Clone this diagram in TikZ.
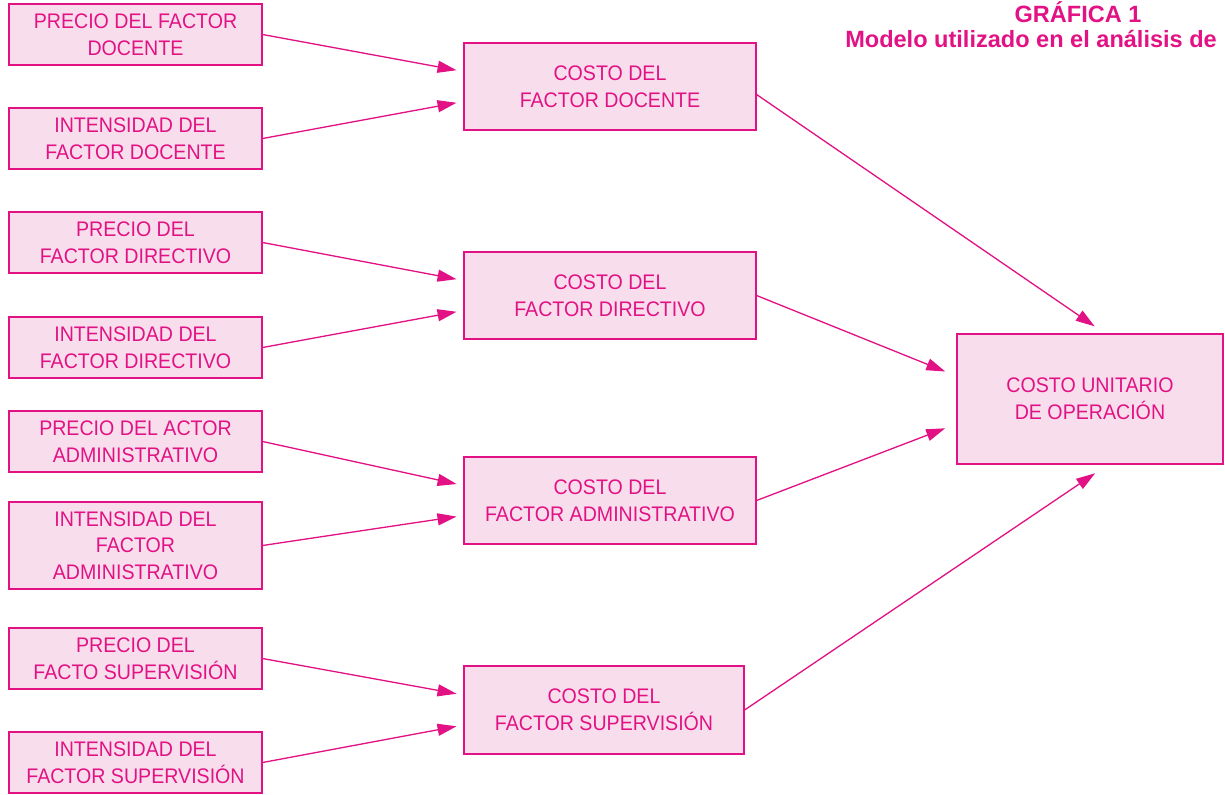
\documentclass[tikz,border=0pt]{standalone}
\usepackage{fontspec}
\setmainfont{Liberation Sans}
\newfontfamily\boxfont[FakeStretch=0.93]{Liberation Sans}
\usepackage{xcolor}
\usepackage{tikz}
\usetikzlibrary{positioning, calc, arrows.meta}

\definecolor{magline}{RGB}{226,18,132}
\definecolor{boxfill}{RGB}{248,222,236}

\begin{document}
\begin{tikzpicture}[x=0.02cm, y=-0.02cm,
        factor/.style={
                draw=magline,
                fill=boxfill,
                line width=0.7pt,
                inner sep=0pt,
                align=center,
                text=magline,
                font=\boxfont\fontsize{12}{15.2}\selectfont,
        },
        smallbox/.style={factor, minimum width=5.06cm, minimum height=1.22cm},
        costbox/.style={factor, minimum width=5.84cm, minimum height=1.74cm},
        flow/.style={
                draw=magline,
                line width=0.75pt,
                -{Triangle[length=0.38cm, width=0.24cm]},
        }]
            \useasboundingbox (0,0) rectangle (1225,795);
            % titulo
            \node[text=magline, font=\bfseries\fontsize{13.4}{16}\selectfont] (title1) at (1078,12) {GRÁFICA 1};
            \node[text=magline, font=\bfseries\fontsize{13.4}{16}\selectfont, anchor=east] (title2) at (1223,39) {Modelo utilizado en el análisis de};
            % factores
            \node[smallbox] (precdoc) at (135.5,34.5) {PRECIO DEL FACTOR\\DOCENTE};
            \node[smallbox] (intdoc) at (135.5,138.5) {INTENSIDAD DEL\\FACTOR DOCENTE};
            \node[smallbox] (precdir) at (135.5,242.5) {PRECIO DEL\\FACTOR DIRECTIVO};
            \node[smallbox] (intdir) at (135.5,347.5) {INTENSIDAD DEL\\FACTOR DIRECTIVO};
            \node[smallbox] (precadm) at (135.5,441.5) {PRECIO DEL ACTOR\\ADMINISTRATIVO};
            \node[smallbox, minimum height=1.74cm] (intadm) at (135.5,545.5) {INTENSIDAD DEL\\FACTOR\\ADMINISTRATIVO};
            \node[smallbox] (precsup) at (135.5,658.5) {PRECIO DEL\\FACTO SUPERVISIÓN};
            \node[smallbox] (intsup) at (135.5,762.5) {INTENSIDAD DEL\\FACTOR SUPERVISIÓN};
            % costos
            \node[costbox] (costdoc) at (610,86.5) {COSTO DEL\\FACTOR DOCENTE};
            \node[costbox] (costdir) at (610,295.5) {COSTO DEL\\FACTOR DIRECTIVO};
            \node[costbox] (costadm) at (610,500.5) {COSTO DEL\\FACTOR ADMINISTRATIVO};
            \node[costbox, minimum width=5.6cm, minimum height=1.76cm] (costsup) at (604,710) {COSTO DEL\\FACTOR SUPERVISIÓN};
            \node[factor, minimum width=5.32cm, minimum height=2.6cm] (unitario) at (1090,399) {COSTO UNITARIO\\DE OPERACIÓN};
            % flechas
            \foreach \src/\dst in {precdoc/costdoc, precdir/costdir, precadm/costadm, precsup/costsup}
                \draw[flow, shorten >=0.14cm] (\src.east) -- ([yshift=0.3cm]\dst.west);
            \foreach \src/\dst in {intdoc/costdoc, intdir/costdir, intadm/costadm, intsup/costsup}
                \draw[flow, shorten >=0.14cm] (\src.east) -- ([yshift=-0.3cm]\dst.west);
            \draw[flow, shorten >=0.25cm] ([yshift=-0.16cm]costdoc.east) -- ([xshift=0.3cm]unitario.north);
            \draw[flow, shorten >=0.24cm] (costdir.east) -- ([yshift=0.46cm]unitario.west);
            \draw[flow, shorten >=0.24cm] (costadm.east) -- ([yshift=-0.5cm]unitario.west);
            \draw[flow, shorten >=0.31cm] (costsup.east) -- ([xshift=0.36cm]unitario.south);
        \end{tikzpicture}
\end{document}
